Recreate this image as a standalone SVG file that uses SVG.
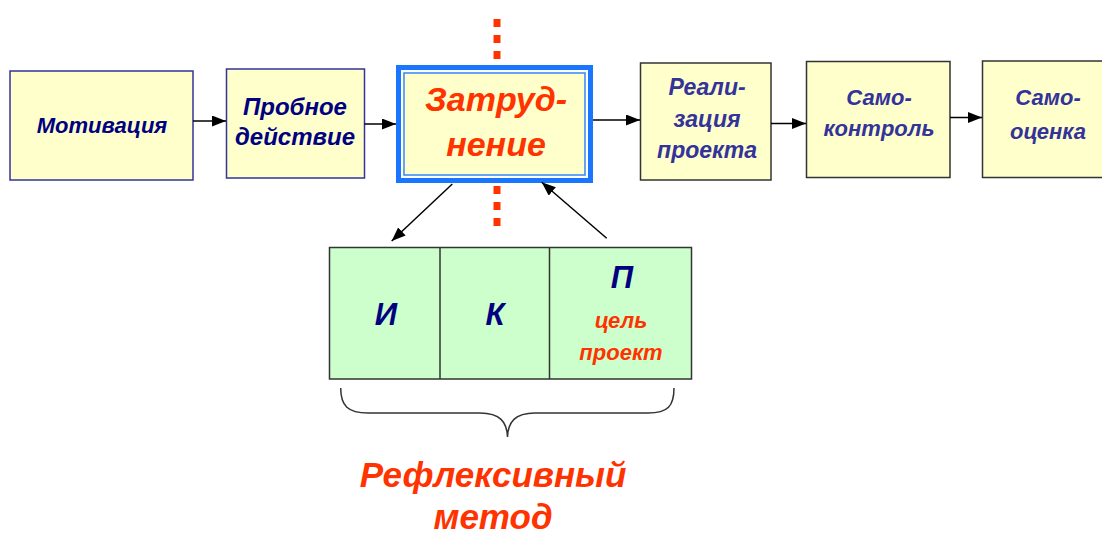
<svg xmlns="http://www.w3.org/2000/svg" width="1102" height="534" viewBox="0 0 1102 534">
<defs>
<marker id="ah" markerWidth="14" markerHeight="11" refX="14" refY="5.5" orient="auto" markerUnits="userSpaceOnUse">
<path d="M0,0 L14,5.5 L0,11 Z" fill="#000"/>
</marker>
<style>
.box{fill:#ffffcc;stroke:#333399;stroke-width:1.5}
.boxg{fill:#ffffcc;stroke:#333;stroke-width:1.5}
.t{font-family:"Liberation Sans",Arial,sans-serif;font-weight:bold;font-style:italic;text-anchor:middle}
.navy{fill:#000080;font-size:22px}
.blu{fill:#333399;font-size:22px}
.red{fill:#ff3300}
.con{stroke:#000;stroke-width:1.5;fill:none}
.dash{stroke:#ff3300;stroke-width:7;stroke-dasharray:8 8;fill:none}
</style>
</defs>
<rect width="1102" height="534" fill="#fff"/>
<g id="dashes">
<line class="dash" x1="497" y1="19" x2="497" y2="65"/>
<line class="dash" x1="497" y1="186" x2="497" y2="226"/>
</g>
<g id="n-motivation">
<rect class="box" x="10" y="71" width="183" height="109"/>
<text class="t navy" x="102" y="133">Мотивация</text>
</g>
<g id="n-probnoe">
<rect class="box" x="226.5" y="69" width="138" height="109"/>
<text class="t navy" x="295" y="115" font-size="24" style="font-size:24px">Пробное</text>
<text class="t navy" x="295" y="145" style="font-size:24px">действие</text>
</g>
<g id="n-zatrud">
<rect x="398.5" y="67.5" width="192" height="113" fill="#ffffcc" stroke="#1a75ff" stroke-width="5"/>
<rect x="402" y="71" width="185" height="106" fill="none" stroke="#fff" stroke-width="2"/>
<rect x="404" y="73" width="181" height="102" fill="none" stroke="#3385ff" stroke-width="1.5"/>
<text class="t red" x="496" y="111" font-size="34">Затруд-</text>
<text class="t red" x="496" y="156" font-size="34">нение</text>
</g>
<g id="n-realiz">
<rect class="boxg" x="640.5" y="63" width="130.5" height="117"/>
<text class="t blu" x="707" y="95" style="font-size:23px">Реали-</text>
<text class="t blu" x="707" y="127" style="font-size:23px">зация</text>
<text class="t blu" x="707" y="158" style="font-size:23px">проекта</text>
</g>
<g id="n-samokontrol">
<rect class="boxg" x="806.5" y="61.5" width="143.5" height="116"/>
<text class="t blu" x="879" y="105">Само-</text>
<text class="t blu" x="879" y="136">контроль</text>
</g>
<g id="n-samoocenka">
<rect class="boxg" x="982.5" y="61" width="125" height="116.5"/>
<text class="t blu" x="1048" y="105">Само-</text>
<text class="t blu" x="1048" y="139">оценка</text>
</g>
<g id="n-reflex">
<rect x="329.5" y="247.5" width="362" height="131.5" fill="#ccffcc" stroke="#333" stroke-width="1.5"/>
<line x1="440" y1="247.5" x2="440" y2="379" stroke="#333" stroke-width="1.5"/>
<line x1="549.5" y1="247.5" x2="549.5" y2="379" stroke="#333" stroke-width="1.5"/>
<text class="t" x="386" y="325" font-size="31" fill="#000080">И</text>
<text class="t" x="495" y="325" font-size="31" fill="#000080">К</text>
<text class="t" x="622" y="288" font-size="31" fill="#000080">П</text>
<text class="t red" x="621" y="328" font-size="22">цель</text>
<text class="t red" x="621" y="360" font-size="22">проект</text>
</g>
<g id="brace">
<path d="M340.7,388 C340.7,406 348,413 368,413 L480,413 C500,413 507,422 507.5,437 C508,422 515,413 535,413 L648,413 C668,413 674,406 674,388" fill="none" stroke="#333" stroke-width="1.5"/>
</g>
<g id="label-method">
<text class="t red" x="493" y="487" font-size="35">Рефлексивный</text>
<text class="t red" x="493" y="529" font-size="35">метод</text>
</g>
<g id="connectors">
<line class="con" x1="193" y1="121" x2="226" y2="121" marker-end="url(#ah)"/>
<line class="con" x1="364.5" y1="124" x2="396" y2="124" marker-end="url(#ah)"/>
<line class="con" x1="593" y1="120" x2="640" y2="120" marker-end="url(#ah)"/>
<line class="con" x1="771" y1="123.5" x2="806" y2="123.5" marker-end="url(#ah)"/>
<line class="con" x1="950" y1="117.5" x2="982" y2="117.5" marker-end="url(#ah)"/>
<line class="con" x1="452.3" y1="184" x2="391.7" y2="241" marker-end="url(#ah)"/>
<line class="con" x1="606.7" y1="238.3" x2="541.7" y2="182.3" marker-end="url(#ah)"/>
</g>
</svg>
